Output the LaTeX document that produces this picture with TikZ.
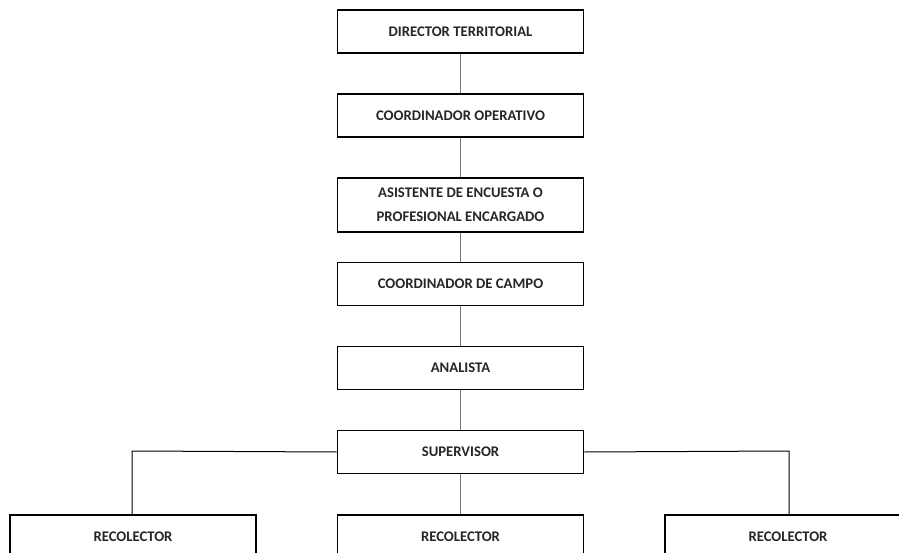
\documentclass[tikz,border=0pt]{standalone}
\usepackage{fontspec}
\setmainfont{Carlito}
\begin{document}
\begin{tikzpicture}[x=1pt,y=-1pt,
  orgbox/.style={draw=black, line width=1.8pt, fill=white, minimum width=246pt, minimum height=43pt, inner sep=0pt, align=center, font=\fontsize{14.7}{24}\selectfont\bfseries, text=black!85},
  vlink/.style={draw=black!55, line width=1.4pt},
  hlink/.style={draw=black, line width=1pt}]
\useasboundingbox (0,0) rectangle (899,553);
\fill[white] (0,0) rectangle (899,553);
\begin{scope}
\clip (0,0) rectangle (899,553);
\node[orgbox] (dir) at (460.5,31.5) {DIRECTOR TERRITORIAL};
\node[orgbox] (cop) at (460.5,115.5) {COORDINADOR OPERATIVO};
\node[orgbox, minimum height=54pt] (asi) at (460.5,205) {ASISTENTE DE ENCUESTA O\\PROFESIONAL ENCARGADO};
\node[orgbox] (cam) at (460.5,284) {COORDINADOR DE CAMPO};
\node[orgbox] (ana) at (460.5,368) {ANALISTA};
\node[orgbox] (sup) at (460.5,452) {SUPERVISOR};
\node[orgbox] (r1) at (133,536.5) {RECOLECTOR};
\node[orgbox] (r2) at (460.5,536.5) {RECOLECTOR};
\node[orgbox] (r3) at (788,536.5) {RECOLECTOR};
\coordinate (cl) at (132,451);
\coordinate (cr) at (789,451);
\draw[vlink] (dir.south) -- (cop.north);
\draw[vlink] (cop.south) -- (asi.north);
\draw[vlink] (asi.south) -- (cam.north);
\draw[vlink] (cam.south) -- (ana.north);
\draw[vlink] (ana.south) -- (sup.north);
\draw[vlink] (sup.south) -- (r2.north);
\draw[hlink] (sup.west) -- (cl) -- (cl |- r1.north);
\draw[hlink] (sup.east) -- (cr) -- (cr |- r3.north);
\end{scope}
\end{tikzpicture}
\end{document}
